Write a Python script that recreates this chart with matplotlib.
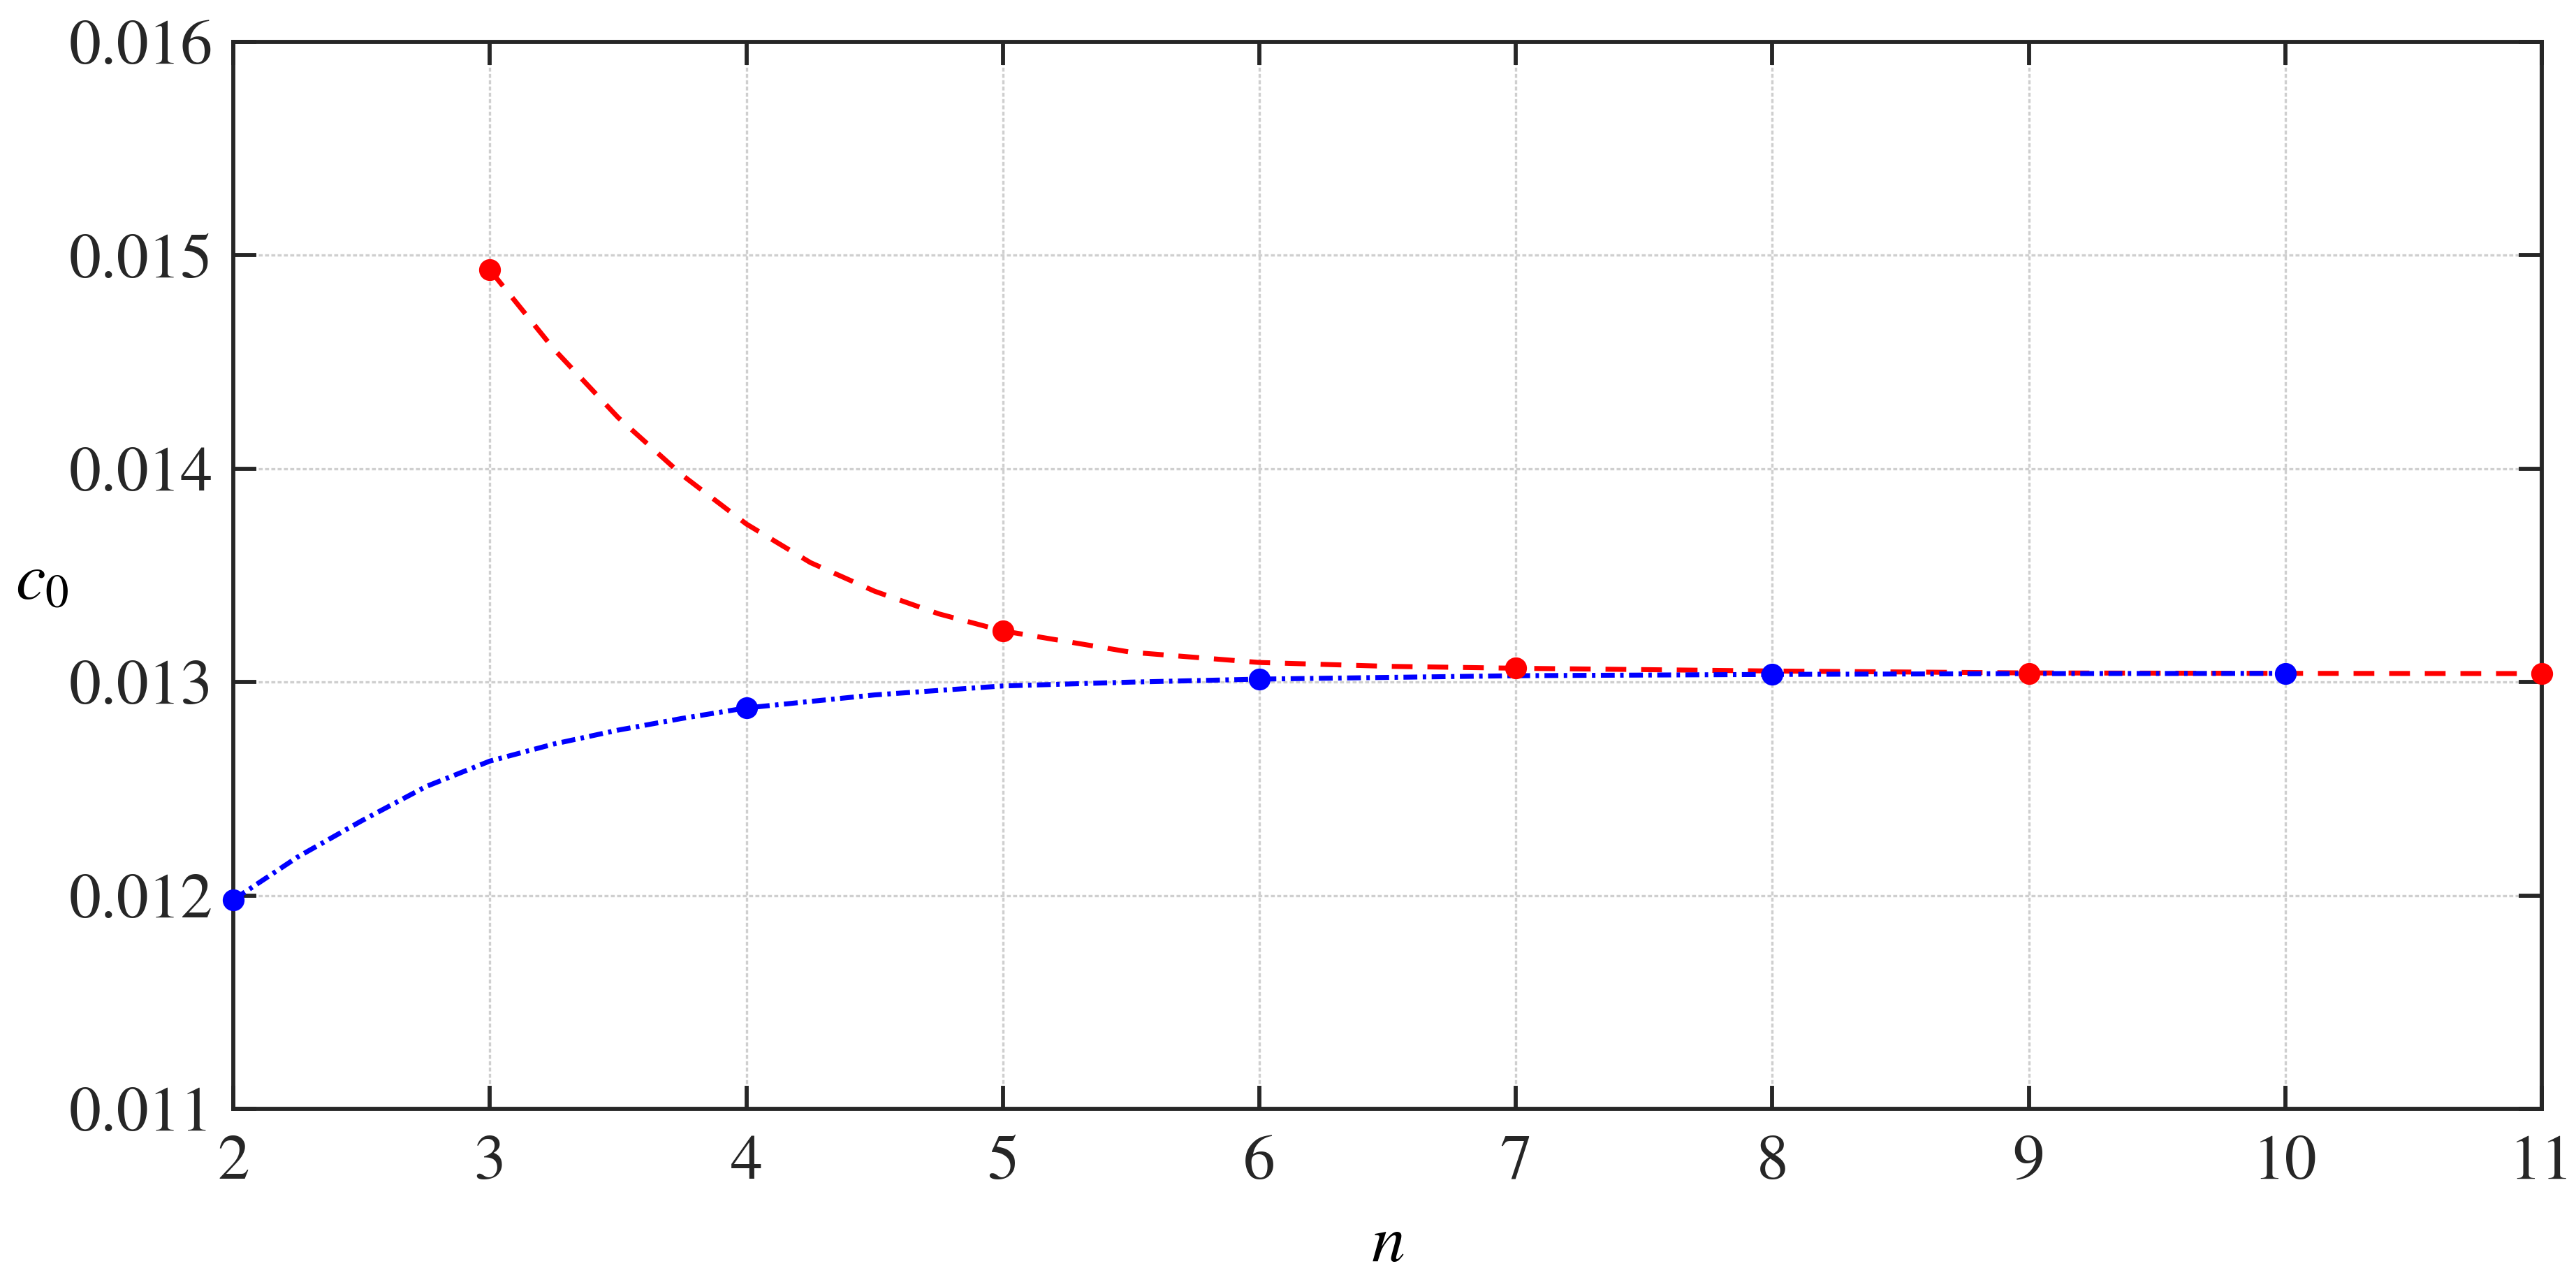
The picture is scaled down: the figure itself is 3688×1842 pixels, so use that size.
import numpy as np
import matplotlib.pyplot as plt

# computed points
n_odd = [3, 5, 7, 9, 11]
c0_odd = [0.014932, 0.013240, 0.013065, 0.013041, 0.013040]
n_even = [2, 4, 6, 8, 10]
c0_even = [0.011980, 0.012879, 0.013014, 0.013036, 0.013041]

# fitted curves
curve_odd_n = [3, 3.25, 3.5, 3.75, 4, 4.25, 4.5, 4.75, 5, 5.5, 6, 6.5, 7, 8, 9, 10, 11]
curve_odd_c0 = [0.014932, 0.014560, 0.014240, 0.013970, 0.013741, 0.013560, 0.013426, 0.013320,
                0.013240, 0.013140, 0.013092, 0.013074, 0.013065, 0.013052, 0.013043, 0.013041, 0.013040]
curve_even_n = [2, 2.25, 2.5, 2.75, 3, 3.25, 3.5, 3.75, 4, 4.5, 5, 5.5, 6, 7, 8, 9, 10]
curve_even_c0 = [0.011980, 0.012180, 0.012350, 0.012510, 0.012630, 0.012710, 0.012775, 0.012830,
                 0.012879, 0.012940, 0.012982, 0.013000, 0.013014, 0.013030, 0.013036, 0.013040, 0.013041]

x_ticks = [2, 3, 4, 5, 6, 7, 8, 9, 10, 11]
y_ticks = [0.011, 0.012, 0.013, 0.014, 0.015, 0.016]
y_tick_labels = ['0.011', '0.012', '0.013', '0.014', '0.015', '0.016']


def setupFonts():
    plt.rcParams['font.family'] = ['STIXGeneral', 'DejaVu Serif']
    plt.rcParams['mathtext.fontset'] = 'stix'


def plotGraph():
    fig = plt.figure(figsize=(3688 / 300, 1842 / 300), dpi=300)
    ax = fig.add_axes([0.0906, 0.1384, 0.8961, 0.8290])

    ax.plot(curve_odd_n, curve_odd_c0, color='#ff0000', lw=1.7, linestyle=(0, (4.2, 3)))
    ax.plot(curve_even_n, curve_even_c0, color='#0000ff', lw=1.7, linestyle=(0, (2.8, 1.1, 0.7, 1.1)))
    ax.plot(n_odd, c0_odd, 'o', color='#ff0000', markersize=6.5, clip_on=False, zorder=5)
    ax.plot(n_even, c0_even, 'o', color='#0000ff', markersize=6.5, clip_on=False, zorder=5)

    ax.set_xlim(2, 11)
    ax.set_ylim(0.011, 0.016)
    ax.set_xticks(x_ticks)
    ax.set_yticks(y_ticks)
    ax.set_yticklabels(y_tick_labels)

    ax.grid(True, color='#cfcfcf', lw=0.8, linestyle=(0, (1.7, 1)))
    ax.set_axisbelow(True)
    ax.tick_params(direction='in', length=8, width=1.4, colors='#262626', labelsize=22,
                   top=True, right=True)
    ax.tick_params(axis='x', pad=9)
    ax.tick_params(axis='y', pad=7)
    for spine in ax.spines.values():
        spine.set_linewidth(1.4)
        spine.set_color('#262626')

    ax.set_xlabel('$n$', fontsize=23)
    ax.xaxis.set_label_coords(0.5, -0.128)
    ax.xaxis.label.set_va('center')
    ax.set_ylabel('$c_0$', fontsize=23, rotation=0)
    ax.yaxis.set_label_coords(-0.083, 0.4925)
    ax.yaxis.label.set_va('center')
    ax.yaxis.label.set_ha('center')

    fig.savefig('out.png', dpi=300)


setupFonts()
plotGraph()
